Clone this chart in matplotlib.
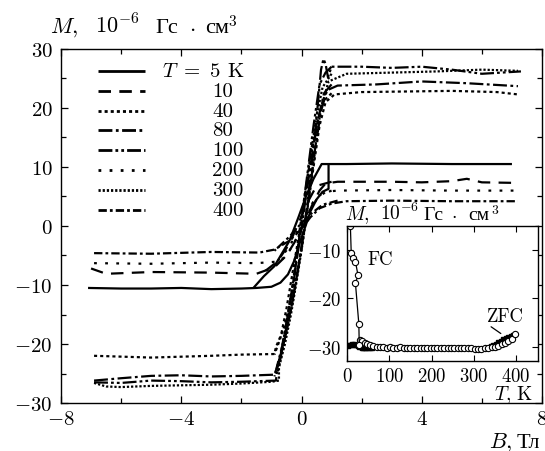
import numpy as np
import matplotlib
matplotlib.use('Agg')
import matplotlib.pyplot as plt
import matplotlib.transforms as mtransforms

# Шрифты в стиле TeX; кириллица берётся из Liberation Serif
plt.rcParams['font.family'] = ['cmr10', 'Liberation Serif']
plt.rcParams['mathtext.fontset'] = 'cm'
plt.rcParams['axes.formatter.use_mathtext'] = True
plt.rcParams['lines.scale_dashes'] = False
plt.rcParams['axes.linewidth'] = 1.0

# Петли гистерезиса M(B), восходящая ветвь (полная) и нисходящая (переход)
b5_up = [-7.1, -6.0, -5.0, -4.0, -3.0, -2.0, -1.5, -1.0, -0.7, -0.45, -0.25, -0.1, 0.1, 0.3, 0.5, 0.7, 0.9, 0.9, 1.5, 3.0, 5.0, 7.0]
m5_up = [-10.5, -10.6, -10.6, -10.5, -10.7, -10.6, -10.5, -10.3, -9.6, -8.2, -6.0, -3.5, -0.5, 2.5, 4.5, 5.8, 6.3, 10.5, 10.5, 10.6, 10.5, 10.5]
b5_dn = [0.9, 0.67, 0.4, 0.15, -0.1, -0.4, -0.9, -1.25, -1.6]
m5_dn = [10.5, 10.5, 8.0, 5.0, 1.5, -2.5, -6.8, -8.5, -10.5]

b10_up = [-7.0, -6.5, -5.0, -3.0, -1.5, -0.9, -0.5, -0.2, 0.1, 0.35, 0.6, 0.8, 1.2, 3.0, 4.0, 5.0, 5.5, 6.0, 7.2]
m10_up = [-7.2, -8.1, -7.8, -7.9, -8.1, -7.0, -5.0, -2.5, 0.5, 3.5, 6.0, 7.2, 7.5, 7.5, 7.4, 7.6, 8.0, 7.4, 7.3]
b10_dn = [1.0, 0.5, 0.2, -0.1, -0.4, -0.8, -1.2]
m10_dn = [7.5, 6.8, 4.0, 0.5, -3.0, -6.0, -7.6]

b40_up = [-6.9, -5.0, -3.0, -2.0, -0.9, -0.85, -0.6, -0.4, -0.2, 0.0, 0.2, 0.4, 0.6, 0.8, 1.1, 2.0, 3.5, 5.0, 6.5, 7.2]
m40_up = [-22.0, -22.3, -22.0, -21.8, -21.7, -20.5, -17.5, -13.5, -9.0, -4.0, 3.0, 10.0, 17.0, 21.0, 22.3, 22.7, 22.8, 22.9, 22.7, 22.3]
b40_dn = [1.0, 0.7, 0.5, 0.3, 0.1, -0.1, -0.3, -0.5, -0.7, -0.9]
m40_dn = [22.5, 21.0, 17.0, 11.5, 5.0, -2.0, -8.0, -14.0, -19.0, -21.8]

b80_up = [-6.9, -6.0, -5.0, -4.0, -3.0, -2.0, -0.9, -0.75, -0.55, -0.35, -0.15, 0.05, 0.25, 0.45, 0.65, 0.85, 1.2, 2.5, 4.0, 5.5, 7.2]
m80_up = [-26.2, -25.8, -25.4, -25.3, -25.5, -25.4, -25.2, -23.0, -19.0, -14.0, -8.5, -2.0, 5.0, 13.0, 19.5, 23.0, 23.8, 24.0, 24.5, 24.2, 23.7]
b80_dn = [1.0, 0.75, 0.55, 0.35, 0.15, -0.05, -0.25, -0.45, -0.65, -0.85]
m80_dn = [24.0, 22.5, 18.0, 12.0, 5.0, -2.0, -9.0, -15.0, -20.5, -24.5]

b100_up = [-6.9, -6.0, -5.0, -4.0, -3.0, -2.0, -0.85, -0.8, -0.6, -0.4, -0.2, 0.0, 0.2, 0.4, 0.55, 0.65, 0.73, 0.8, 0.88, 1.0, 2.0, 3.0, 4.0, 5.0, 6.0, 7.3]
m100_up = [-26.5, -26.6, -26.2, -26.3, -26.5, -26.4, -26.2, -24.0, -20.0, -15.5, -10.0, -3.5, 4.0, 13.0, 21.0, 26.5, 28.3, 27.5, 25.2, 27.0, 27.0, 26.8, 27.0, 26.5, 25.8, 26.2]
b100_dn = [1.0, 0.8, 0.6, 0.4, 0.2, 0.0, -0.2, -0.4, -0.6, -0.8]
m100_dn = [27.0, 26.0, 24.0, 17.0, 9.0, 1.0, -7.0, -14.0, -20.0, -25.0]

b200_up = [-6.9, -5.0, -3.0, -1.5, -0.7, -0.4, -0.1, 0.2, 0.5, 0.8, 1.2, 3.0, 5.0, 7.2]
m200_up = [-6.3, -6.4, -6.2, -6.3, -6.0, -4.2, -1.5, 2.0, 4.5, 5.8, 6.0, 6.1, 6.0, 6.0]
b200_dn = [1.0, 0.5, 0.2, -0.1, -0.4, -0.8]
m200_dn = [6.0, 5.0, 2.5, -0.5, -3.5, -6.0]

b300_up = [-6.9, -6.5, -6.0, -5.0, -4.0, -3.0, -2.0, -1.0, -0.75, -0.75, -0.55, -0.35, -0.15, 0.05, 0.25, 0.45, 0.65, 0.9, 1.5, 3.0, 4.5, 6.0, 7.2]
m300_up = [-26.6, -27.2, -27.3, -27.1, -27.0, -26.9, -26.7, -26.4, -26.2, -24.0, -20.0, -15.0, -9.0, -2.5, 5.0, 13.0, 20.0, 24.5, 25.8, 26.0, 26.2, 26.5, 26.3]
b300_dn = [1.0, 0.7, 0.5, 0.3, 0.1, -0.1, -0.3, -0.5, -0.7, -0.9]
m300_dn = [25.8, 23.5, 18.5, 12.0, 4.5, -3.0, -10.0, -16.5, -22.0, -25.5]

b400_up = [-6.9, -5.0, -3.0, -1.4, -0.9, -0.4, 0.0, 0.3, 0.6, 1.0, 1.5, 3.0, 5.0, 7.2]
m400_up = [-4.6, -4.7, -4.4, -4.5, -4.0, -2.5, -0.5, 1.5, 3.0, 3.8, 4.2, 4.3, 4.2, 4.2]
b400_dn = [1.2, 0.7, 0.3, 0.0, -0.4, -0.9]
m400_dn = [4.3, 3.6, 2.0, 0.5, -1.8, -4.2]

temps = ['5', '10', '40', '80', '100', '200', '300', '400']

# Вставка M(T): FC и ZFC
t_fc = [8, 10, 15, 20, 26, 20, 28, 29]
m_fc = [-5.0, -10.6, -11.6, -12.4, -15.2, -16.9, -25.3, -29.6]

t_zfc = [30, 36, 42, 48, 55, 62, 70, 78, 86, 94, 102, 110, 118, 126, 134, 142, 150, 158, 166, 174,
         182, 190, 198, 206, 214, 222, 230, 238, 246, 254, 262, 270, 278, 286, 294, 302, 310, 318,
         326, 334, 342, 350, 358, 366, 374, 382, 390, 398]
m_zfc = [-28.6, -28.9, -29.2, -29.5, -29.7, -29.9, -30.0, -30.1, -30.1, -30.2, -30.1, -30.2, -30.2,
         -30.1, -30.2, -30.3, -30.2, -30.2, -30.3, -30.2, -30.3, -30.2, -30.2, -30.3, -30.3, -30.2,
         -30.3, -30.3, -30.2, -30.4, -30.3, -30.3, -30.3, -30.4, -30.4, -30.5, -30.5, -30.5, -30.4,
         -30.3, -30.1, -30.0, -29.8, -29.5, -29.2, -28.9, -28.4, -27.4]

t_zfc2 = [2, 5, 8, 11, 14, 17, 20, 23, 26, 29, 32, 35, 38, 42, 46, 50, 55, 60,
          340, 346, 352, 358, 364, 370, 376, 382, 388, 394]
m_zfc2 = [-29.8, -29.6, -29.7, -29.5, -29.6, -29.5, -29.7, -29.6, -29.8, -30.0, -30.1, -30.2, -30.3,
          -30.3, -30.3, -30.2, -30.3, -30.2, -29.9, -29.6, -29.4, -29.0, -28.8, -28.5, -28.3, -28.0,
          -27.9, -27.6]

# Стили линий (в пунктах)
styles = {
    '5': (0, ()),
    '10': (0, (9, 6)),
    '40': (0, (2.2, 2.2)),
    '80': (0, (10, 2.5, 2, 2.5)),
    '100': (0, (10, 2.2, 2, 2.2, 2, 2.2)),
    '200': (0, (2, 6)),
    '300': (0, (1.6, 1.4)),
    '400': (0, (6, 2.2, 2, 2.2)),
}

curves = {
    '5': (b5_up, m5_up, b5_dn, m5_dn),
    '10': (b10_up, m10_up, b10_dn, m10_dn),
    '40': (b40_up, m40_up, b40_dn, m40_dn),
    '80': (b80_up, m80_up, b80_dn, m80_dn),
    '100': (b100_up, m100_up, b100_dn, m100_dn),
    '200': (b200_up, m200_up, b200_dn, m200_dn),
    '300': (b300_up, m300_up, b300_dn, m300_dn),
    '400': (b400_up, m400_up, b400_dn, m400_dn),
}

fig = plt.figure(figsize=(5.45, 4.52), dpi=100)


def put_pieces(axis, x, y, pieces, offsets, fontsize):
    """Подпись из кусков (математика cm + кириллица) по общей базовой линии;
    offsets - сдвиг каждого куска от начала, в пикселях"""
    for s, dx in zip(pieces, offsets):
        tr = mtransforms.offset_copy(axis.transAxes, fig=fig, x=dx, y=0, units='dots')
        axis.text(x, y, s, transform=tr, fontsize=fontsize, ha='left', va='baseline',
                  clip_on=False)


ax = fig.add_axes([61 / 545, 1 - 404 / 452, 481 / 545, 354 / 452])

lw = 1.6
for t in temps:
    bu, mu, bd, md = curves[t]
    ax.plot(bu, mu, color='black', lw=lw, linestyle=styles[t])
    ax.plot(bd, md, color='black', lw=lw, linestyle=styles[t])

ax.set_xlim(-8, 8)
ax.set_ylim(-30, 30)
ax.set_xticks([-8, -4, 0, 4, 8])
ax.set_xticks([-6, -2, 2, 6], minor=True)
ax.set_yticks([-30, -20, -10, 0, 10, 20, 30])
ax.set_yticks([-25, -15, -5, 5, 15, 25], minor=True)
ax.tick_params(which='both', direction='in', top=True, right=True, labelsize=15)
ax.tick_params(which='major', length=5, width=0.9)
ax.tick_params(which='minor', length=3.5, width=0.9)
ax.tick_params(axis='x', pad=5)
ax.tick_params(axis='y', pad=6)

# Подписи осей
put_pieces(ax, -11 / 481, 1.048, [r'$M,$', r'$10^{-6}$', 'Гс', r'$\cdot$', 'см', r'$^3$'],
           [0, 45, 105, 139, 155, 178], 16)
put_pieces(ax, 428 / 481, -0.124, [r'$B,$', 'Тл'], [0, 28], 16)

# Легенда вручную (как в оригинале)
leg_top = (404 - 72) / 354
leg_step = 19.8 / 354
for i, t in enumerate(temps):
    y = leg_top - i * leg_step
    ax.plot([0.077, 0.175], [y, y], transform=ax.transAxes, color='black', lw=2.0,
            linestyle=styles[t], solid_capstyle='butt', dash_capstyle='butt')
    if i == 0:
        ax.text(0.21, y, r'$T\ =\ 5$ K', transform=ax.transAxes, fontsize=15, va='center', ha='left')
    else:
        ax.text(0.314, y, t, transform=ax.transAxes, fontsize=15, va='center', ha='left')

# Вставка
ax_in = fig.add_axes([347 / 545, 1 - 362 / 452, 191 / 545, 135 / 452])
ax_in.plot(t_zfc2, m_zfc2, linestyle='none', marker='s', ms=3.2, color='black')
ax_in.plot(t_zfc, m_zfc, linestyle='none', marker='o', ms=4.5, mfc='white', mec='black', mew=0.8)
ax_in.plot(t_fc, m_fc, color='black', lw=0.9, marker='o', ms=4.5, mfc='white', mec='black', mew=0.8)

ax_in.set_xlim(0, 452)
ax_in.set_ylim(-33, -5)
ax_in.set_xticks([0, 100, 200, 300, 400])
ax_in.set_yticks([-30, -20, -10])
ax_in.tick_params(direction='in', top=True, right=True, labelsize=13.5, length=4, width=0.8)
ax_in.tick_params(axis='x', pad=4)
ax_in.tick_params(axis='y', pad=4)
for s in ax_in.spines.values():
    s.set_linewidth(1.0)

ax_in.text(78, -11.9, 'FC', fontsize=13.5, ha='center', va='center')
ax_in.text(376, -23.6, 'ZFC', fontsize=13.5, ha='center', va='center')
ax_in.annotate('', xy=(364, -27.3), xytext=(341, -25.9),
               arrowprops=dict(arrowstyle='-', lw=0.9, color='black', shrinkA=0, shrinkB=0))

put_pieces(ax_in, 147 / 191, -0.28, [r'$T,$', 'K'], [0, 22], 14)
put_pieces(ax_in, -2 / 191, 1.052, [r'$M,$', r'$10^{-6}$', 'Гс', r'$\cdot$', 'см', r'$^3$'],
           [0, 35, 78, 106, 123, 146], 14)

plt.savefig('out.png', dpi=100)
plt.close()
